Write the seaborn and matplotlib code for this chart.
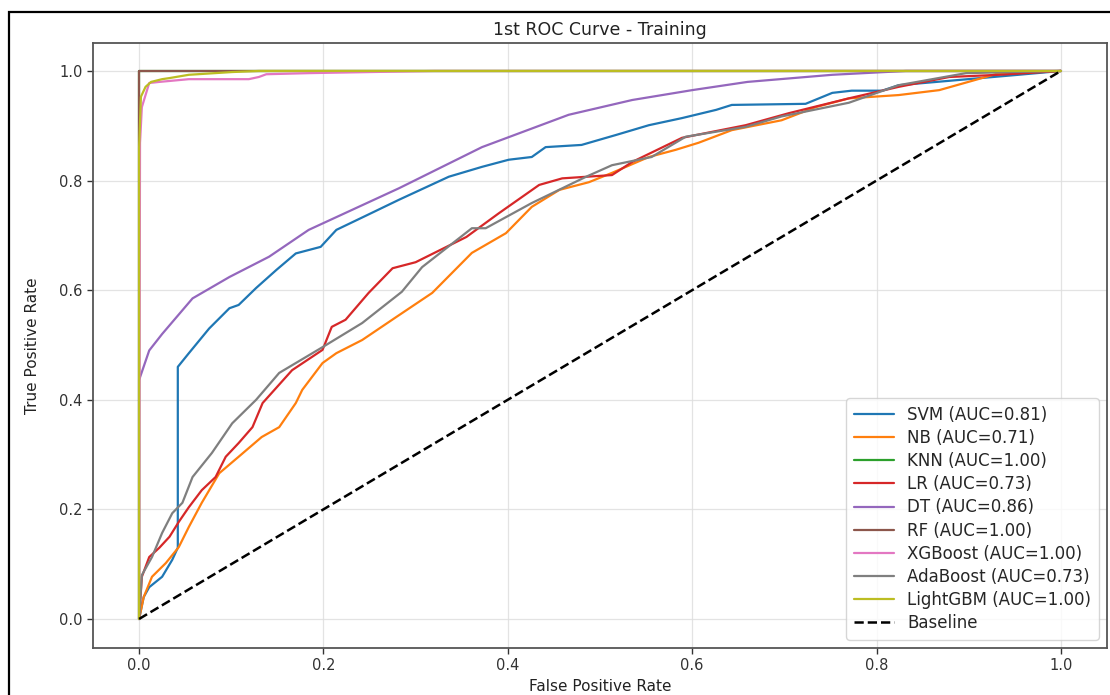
import numpy as np
import pandas as pd
import matplotlib
matplotlib.use("Agg")
import matplotlib.pyplot as plt
import seaborn as sns
from matplotlib.patches import Rectangle

# ---- data ----
svm_fpr = [0, 0.005, 0.011, 0.025, 0.036, 0.042, 0.042, 0.054, 0.076, 0.098, 0.108, 0.127, 0.149, 0.170, 0.197, 0.214,
           0.245, 0.282, 0.336, 0.372, 0.401, 0.426, 0.441, 0.480, 0.517, 0.553, 0.589, 0.626, 0.643, 0.723, 0.752, 0.773,
           0.806, 0.824, 0.954, 1.0]
svm_tpr = [0, 0.040, 0.058, 0.077, 0.108, 0.130, 0.460, 0.485, 0.530, 0.567, 0.573, 0.604, 0.637, 0.667, 0.679, 0.710,
           0.735, 0.765, 0.807, 0.825, 0.838, 0.843, 0.861, 0.865, 0.883, 0.901, 0.914, 0.929, 0.938, 0.940, 0.960, 0.964,
           0.964, 0.974, 0.993, 1.0]

nb_fpr = [0, 0.005, 0.014, 0.029, 0.043, 0.054, 0.068, 0.087, 0.108, 0.133, 0.152, 0.170, 0.177, 0.199, 0.214, 0.242,
          0.279, 0.318, 0.361, 0.398, 0.426, 0.456, 0.488, 0.513, 0.553, 0.582, 0.607, 0.643, 0.697, 0.734, 0.770,
          0.824, 0.868, 0.908, 0.933, 1.0]
nb_tpr = [0, 0.040, 0.077, 0.102, 0.131, 0.168, 0.212, 0.266, 0.296, 0.332, 0.350, 0.394, 0.418, 0.467, 0.485, 0.509,
          0.551, 0.595, 0.668, 0.704, 0.752, 0.783, 0.797, 0.814, 0.843, 0.856, 0.869, 0.892, 0.910, 0.934, 0.950,
          0.956, 0.965, 0.984, 0.996, 1.0]

knn_fpr = [0, 0, 1.0]
knn_tpr = [0, 1.0, 1.0]

lr_fpr = [0, 0.003, 0.011, 0.022, 0.033, 0.043, 0.054, 0.068, 0.083, 0.094, 0.108, 0.123, 0.134, 0.166, 0.199, 0.209,
          0.224, 0.249, 0.275, 0.300, 0.355, 0.390, 0.434, 0.459, 0.513, 0.535, 0.589, 0.658, 0.705, 0.770, 0.824,
          0.879, 0.933, 1.0]
lr_tpr = [0, 0.077, 0.113, 0.130, 0.150, 0.177, 0.204, 0.235, 0.259, 0.296, 0.321, 0.350, 0.394, 0.454, 0.491, 0.533,
          0.546, 0.595, 0.640, 0.651, 0.697, 0.740, 0.792, 0.804, 0.810, 0.834, 0.878, 0.901, 0.923, 0.950, 0.971,
          0.989, 0.993, 1.0]

dt_fpr = [0, 0, 0.011, 0.025, 0.058, 0.098, 0.141, 0.184, 0.282, 0.372, 0.466, 0.535, 0.600, 0.660, 0.752, 0.832, 1.0]
dt_tpr = [0, 0.436, 0.490, 0.520, 0.585, 0.624, 0.661, 0.710, 0.786, 0.861, 0.920, 0.947, 0.965, 0.980, 0.993, 1.0, 1.0]

rf_fpr = [0, 0, 1.0]
rf_tpr = [0, 1.0, 1.0]

xgb_fpr = [0, 0.001, 0.003, 0.011, 0.022, 0.054, 0.119, 0.130, 0.138, 0.184, 0.217, 0.320, 1.0]
xgb_tpr = [0, 0.869, 0.934, 0.978, 0.980, 0.985, 0.985, 0.989, 0.994, 0.996, 0.997, 1.0, 1.0]

ada_fpr = [0, 0.003, 0.014, 0.025, 0.036, 0.047, 0.058, 0.079, 0.101, 0.127, 0.152, 0.199, 0.242, 0.285, 0.307, 0.361,
           0.376, 0.426, 0.485, 0.513, 0.556, 0.593, 0.658, 0.697, 0.770, 0.824, 0.897, 1.0]
ada_tpr = [0, 0.080, 0.113, 0.157, 0.193, 0.212, 0.259, 0.303, 0.357, 0.400, 0.449, 0.496, 0.540, 0.597, 0.642, 0.713,
           0.713, 0.759, 0.807, 0.828, 0.843, 0.880, 0.898, 0.917, 0.942, 0.974, 0.996, 1.0]

lgbm_fpr = [0, 0, 0.002, 0.007, 0.013, 0.025, 0.033, 0.054, 0.101, 0.130, 1.0]
lgbm_tpr = [0, 0.860, 0.953, 0.971, 0.980, 0.985, 0.987, 0.993, 0.998, 1.0, 1.0]

models = ["SVM", "NB", "KNN", "LR", "DT", "RF", "XGBoost", "AdaBoost", "LightGBM"]
aucs = [0.81, 0.71, 1.00, 0.73, 0.86, 1.00, 1.00, 0.73, 1.00]
fprs = [svm_fpr, nb_fpr, knn_fpr, lr_fpr, dt_fpr, rf_fpr, xgb_fpr, ada_fpr, lgbm_fpr]
tprs = [svm_tpr, nb_tpr, knn_tpr, lr_tpr, dt_tpr, rf_tpr, xgb_tpr, ada_tpr, lgbm_tpr]
baseline = [0, 1]

title = "1st ROC Curve - Training"
xlabel = "False Positive Rate"
ylabel = "True Positive Rate"

# ---- plot ----
sns.set_style("white")
plt.rcParams["font.family"] = ["DejaVu Sans"]

fig = plt.figure(figsize=(11.10, 6.95), dpi=100)
ax = fig.add_axes([93 / 1110, 1 - 648 / 695, (1107 - 93) / 1110, (648 - 43) / 695])

palette = sns.color_palette("tab10", 10)
for i, (m, a, fx, ty) in enumerate(zip(models, aucs, fprs, tprs)):
    df = pd.DataFrame({"fpr": fx, "tpr": ty})
    sns.lineplot(data=df, x="fpr", y="tpr", ax=ax, estimator=None, sort=False,
                 color=palette[i], linewidth=1.6, label=f"{m} (AUC={a:.2f})")

sns.lineplot(x=baseline, y=baseline, ax=ax, estimator=None, sort=False,
             color="black", linestyle="--", linewidth=1.8, label="Baseline")

ax.set_xlim(-0.05, 1.05)
ax.set_ylim(-0.053, 1.051)
ax.set_xticks([0, 0.2, 0.4, 0.6, 0.8, 1.0])
ax.set_yticks([0, 0.2, 0.4, 0.6, 0.8, 1.0])
ax.set_xticklabels(["0.0", "0.2", "0.4", "0.6", "0.8", "1.0"])
ax.set_yticklabels(["0.0", "0.2", "0.4", "0.6", "0.8", "1.0"])
ax.tick_params(axis="both", labelsize=10.5, length=4, width=1, colors="#333333", direction="out",
               bottom=True, left=True)
ax.grid(True, color="#dddddd", linewidth=0.9, alpha=0.8)
for s in ax.spines.values():
    s.set_color("#555555")
    s.set_linewidth(1.3)

ax.set_title(title, fontsize=12.5, color="#222222", pad=6)
ax.set_xlabel(xlabel, fontsize=11, color="#222222", labelpad=4)
ax.set_ylabel(ylabel, fontsize=11, color="#222222", labelpad=14)

leg = ax.legend(loc="lower right", fontsize=12, labelspacing=0.31, handlelength=2.4,
                handletextpad=0.8, borderpad=0.45, borderaxespad=0.5, frameon=True)
leg.get_frame().set_edgecolor("#cccccc")

# black screenshot border (top and left)
fig.add_artist(Rectangle((9 / 1110, -0.1), 1.2, (695 - 12) / 695 + 0.1, transform=fig.transFigure,
                         fill=False, edgecolor="black", linewidth=1.6))

fig.savefig("out.png", dpi=100)
